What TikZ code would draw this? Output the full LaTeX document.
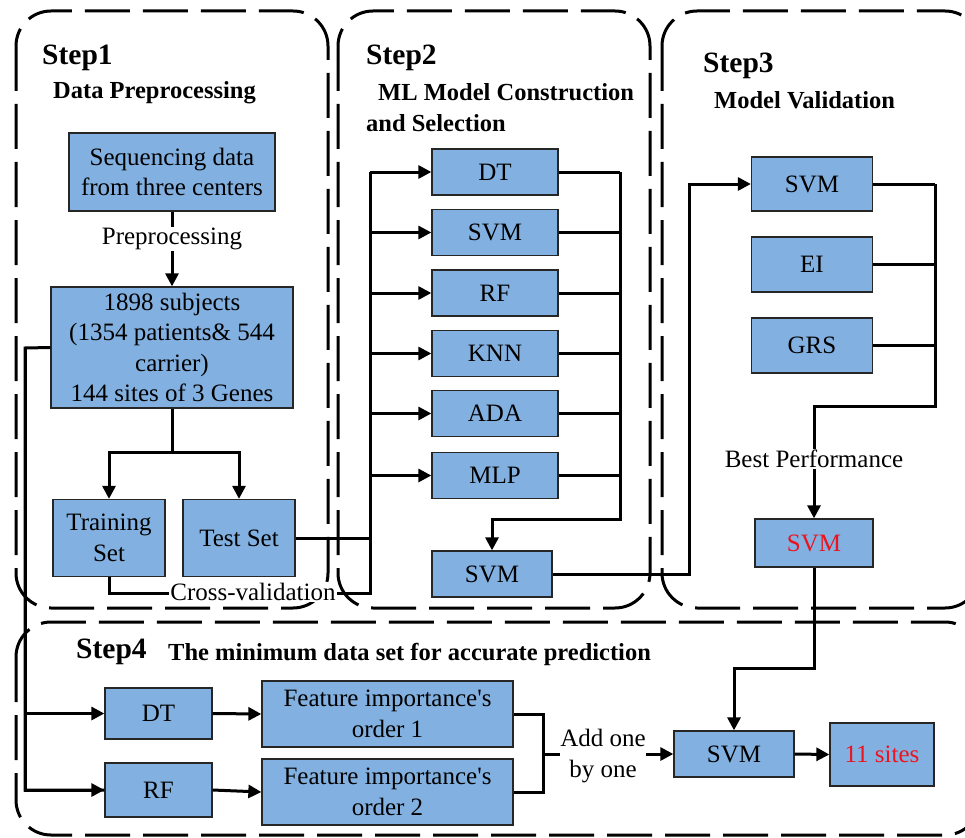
\documentclass[tikz,border=0pt]{standalone}
\usepackage{fontspec}
\setmainfont{Liberation Serif}[Ligatures=TeXOff]
\usetikzlibrary{arrows.meta}
\definecolor{boxblue}{RGB}{130,177,225}
\definecolor{redtxt}{RGB}{235,20,30}
\begin{document}
\begin{tikzpicture}[x=1pt,y=-1pt,
  dbox/.style={draw=black, line width=3pt, dash pattern=on 45pt off 13pt, rounded corners=35pt},
  box/.style={draw=black!85, fill=boxblue, line width=1.3pt, inner sep=0pt, align=center,
    font=\fontsize{25}{30.5}\selectfont},
  conn/.style={draw=black, line width=3pt},
  arr/.style={conn, -{Triangle[length=13pt,width=13pt]}},
  lbl/.style={fill=white, inner sep=1pt, align=center, font=\fontsize{25}{31}\selectfont},
  stepttl/.style={anchor=west, inner sep=0pt, font=\bfseries\fontsize{29.5}{32}\selectfont},
  subttl/.style={anchor=west, inner sep=0pt, font=\bfseries\fontsize{24.5}{31}\selectfont}]
\useasboundingbox (0,0) rectangle (965,837);
\clip (0,0) rectangle (965,837);

% dashed step frames
\draw[dbox] (16,11) rectangle (328,608);
\draw[dbox] (338,11) rectangle (650,608);
\draw[dbox] (662,11) rectangle (980,608);
\draw[dbox] (16,622) rectangle (980,835);

% titles
\node[stepttl] (t1) at (42,58) {Step1};
\node[subttl] (s1) at (53,93) {Data Preprocessing};
\node[stepttl] (t2) at (366,58) {Step2};
\node[subttl, align=left] (s2) at (366,108) {\hspace*{12pt}ML Model Construction\\and Selection};
\node[stepttl] (t3) at (703,66) {Step3};
\node[subttl] (s3) at (714,100) {Model Validation};
\node[stepttl] (t4) at (76,652) {Step4};
\node[subttl] (s4) at (168,654) {The minimum data set for accurate prediction};

% Step1 nodes
\node[box, minimum width=206pt, minimum height=78pt] (seq) at (172,172) {Sequencing data\\from three centers};
\node[box, minimum width=242pt, minimum height=121pt] (subj) at (172,347.5) {1898 subjects\\(1354 patients\& 544\\carrier)\\144 sites of 3 Genes};
\node[box, minimum width=112pt, minimum height=77pt] (train) at (109,538) {Training\\Set};
\node[box, minimum width=112pt, minimum height=77pt] (test) at (239,538) {Test Set};

% Step2 nodes
\node[box, minimum width=126pt, minimum height=46pt] (dt2) at (495,172) {DT};
\node[box, minimum width=126pt, minimum height=46pt] (svm2) at (495,232.5) {SVM};
\node[box, minimum width=126pt, minimum height=46pt] (rf2) at (495,293) {RF};
\node[box, minimum width=126pt, minimum height=46pt] (knn2) at (495,353.5) {KNN};
\node[box, minimum width=126pt, minimum height=46pt] (ada2) at (495,413.5) {ADA};
\node[box, minimum width=126pt, minimum height=46pt] (mlp2) at (495,475.5) {MLP};
\node[box, minimum width=120pt, minimum height=46pt] (svmsel) at (492,574) {SVM};

% Step3 nodes
\node[box, minimum width=121pt, minimum height=54pt] (svm3) at (812,184) {SVM};
\node[box, minimum width=121pt, minimum height=55pt] (ei3) at (812,264.5) {EI};
\node[box, minimum width=121pt, minimum height=55pt] (grs3) at (812,345.5) {GRS};
\node[box, minimum width=118pt, minimum height=48pt, text=redtxt] (best) at (814,543) {SVM};

% Step4 nodes
\node[box, minimum width=107pt, minimum height=51pt] (dt4) at (158.5,713.5) {DT};
\node[box, minimum width=107pt, minimum height=54pt] (rf4) at (158.5,790) {RF};
\node[box, minimum width=251pt, minimum height=66pt] (f1) at (387.5,714) {Feature importance's\\order 1};
\node[box, minimum width=251pt, minimum height=66pt] (f2) at (387.5,792) {Feature importance's\\order 2};
\node[box, minimum width=120pt, minimum height=46pt] (svm4) at (734,754) {SVM};
\node[box, minimum width=104pt, minimum height=63pt, text=redtxt] (sites) at (882,754.5) {11 sites};

% coordinates
\coordinate (split) at (172,452);
\coordinate (L1) at (25,348);
\coordinate (busL) at (370,593);
\coordinate (busR) at (620,519);
\coordinate (up3) at (689,184);
\coordinate (bus3) at (935,406);
\coordinate (down4) at (814,668);
\coordinate (M) at (543,754);

% Step1 connectors
\draw[arr] (seq.south) -- (subj.north);
\draw[arr] (subj.south) -- (split) -| (train.north);
\draw[arr] (split) -| (test.north);
\draw[conn] (subj.west) -- (L1) |- (rf4.west);
\draw[arr] (L1) |- (rf4.west);
\draw[arr] (L1 |- dt4.west) -- (dt4.west);

% Step2 connectors
\draw[conn] (train.south) |- (busL) -- (busL |- dt2.west);
\draw[conn] (test.east) -- (busL |- test.east);
\foreach \n in {dt2,svm2,rf2,knn2,ada2,mlp2}{
  \draw[arr] (busL |- \n.west) -- (\n.west);
  \draw[conn] (\n.east) -- (busR |- \n.east);
}
\draw[arr] (busR |- dt2.east) -- (busR) -| (svmsel.north);
\draw[arr] (svmsel.east) -| (up3) -- (svm3.west);

% Step3 connectors
\foreach \n in {svm3,ei3,grs3}{
  \draw[conn] (\n.east) -- (bus3 |- \n.east);
}
\draw[arr] (bus3 |- svm3.east) -- (bus3) -| (best.north);
\draw[arr] (best.south) -- (down4) -| (svm4.north);

% Step4 connectors
\draw[arr] (dt4.east) -- (f1.west);
\draw[arr] (rf4.east) -- (f2.west);
\draw[conn] (f1.east) -| (M);
\draw[conn] (f2.east) -| (M);
\draw[arr] (M) -- (svm4.west);
\draw[arr] (svm4.east) -- (sites.west);

% connector labels
\node[lbl] (lpre) at (172,239) {Preprocessing};
\node[lbl] (lcv) at (253,592) {Cross-validation};
\node[lbl] (lbest) at (814,459) {Best Performance};
\node[lbl, inner sep=0pt] (ladd) at (603,756) {Add one\\by one};
\end{tikzpicture}
\end{document}
